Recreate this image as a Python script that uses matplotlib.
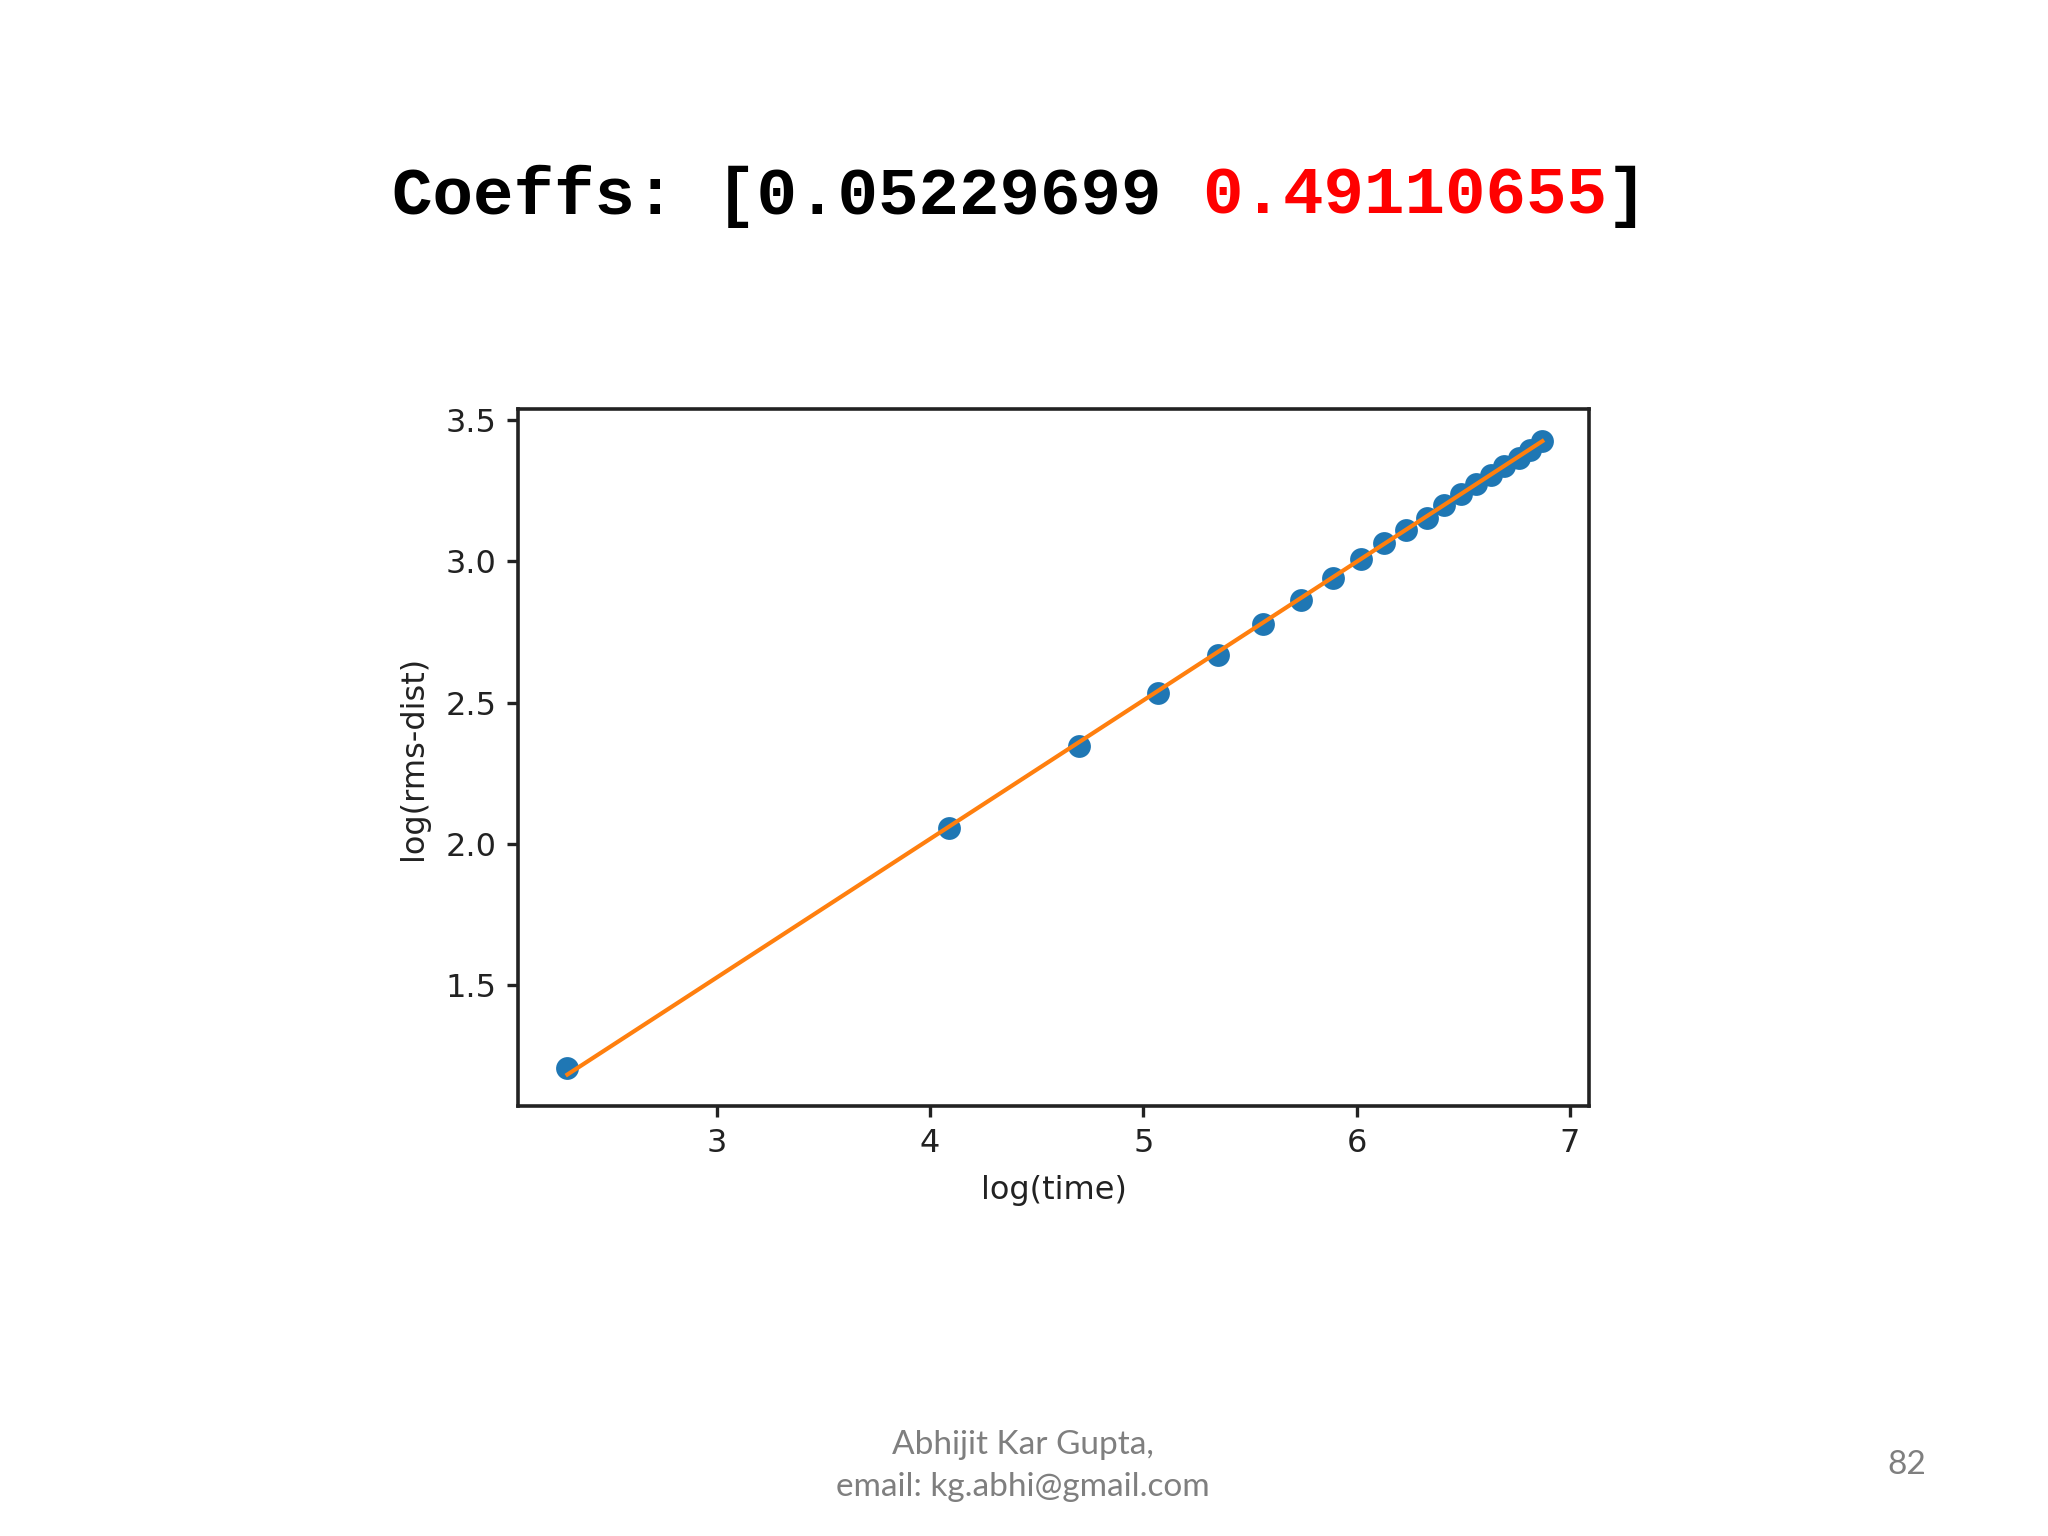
import numpy as np
import matplotlib.pyplot as plt

# valores: log(time) vs log(rms-dist)
log_t = [2.30, 4.09, 4.70, 5.07, 5.35, 5.56, 5.74, 5.89, 6.02, 6.13,
         6.23, 6.33, 6.41, 6.49, 6.56, 6.63, 6.69, 6.76, 6.81, 6.87]
log_d = [1.204, 2.056, 2.345, 2.535, 2.668, 2.780, 2.862, 2.940, 3.010, 3.066,
         3.112, 3.155, 3.199, 3.240, 3.274, 3.307, 3.338, 3.368, 3.395, 3.426]
coeffs = [0.05229699, 0.49110655]

fig = plt.figure(figsize=(10.24, 7.68), dpi=200)

# titulo: parte negra y parte roja, en fuente monoespaciada
tsize = 24.3
cw = 0.6 * tsize / 72 * 200 / 2048  # ancho de un caracter en fraccion de figura
x0 = 0.1914
parts = [("Coeffs: [0.05229699 ", "black"), ("0.49110655", "#ff0000"), ("]", "black")]
n = 0
for txt, col in parts:
    fig.text(x0 + n * cw, 0.861, txt, family="Liberation Mono", weight="bold",
             fontsize=tsize, color=col, ha="left", va="baseline")
    n += len(txt)

ax = fig.add_axes([0.2529, 0.2799, 0.5230, 0.4538])
x = np.array(log_t)
ax.scatter(x, log_d, s=52, color="#1f77b4", zorder=2)
ax.plot(x, coeffs[0] + coeffs[1] * x, color="#ff7f0e", lw=1.5, zorder=3)

ax.set_xlim(2.068, 7.089)
ax.set_ylim(1.07, 3.54)
ax.set_xticks([3, 4, 5, 6, 7])
ax.set_yticks([1.5, 2.0, 2.5, 3.0, 3.5])
ax.tick_params(labelsize=11.5, length=3.8, width=1.2, pad=4, colors="#222222")
for s in ax.spines.values():
    s.set_linewidth(1.3)
    s.set_color("#222222")
ax.set_xlabel("log(time)", fontsize=11.5, color="#222222", labelpad=6)
ax.set_ylabel("log(rms-dist)", fontsize=11.5, color="#222222", labelpad=6)
# Etiquetas.

fig.text(0.4995, 0.059, "Abhijit Kar Gupta,", family="Lato", fontsize=12.0,
         color="#7f7f7f", ha="center", va="center")
fig.text(0.4995, 0.032, "email: kg.abhi@gmail.com", family="Lato", fontsize=12.0,
         color="#7f7f7f", ha="center", va="center")
fig.text(0.931, 0.046, "82", family="Lato", fontsize=12.0,
         color="#7f7f7f", ha="center", va="center")

fig.savefig("out.png", dpi=200)
